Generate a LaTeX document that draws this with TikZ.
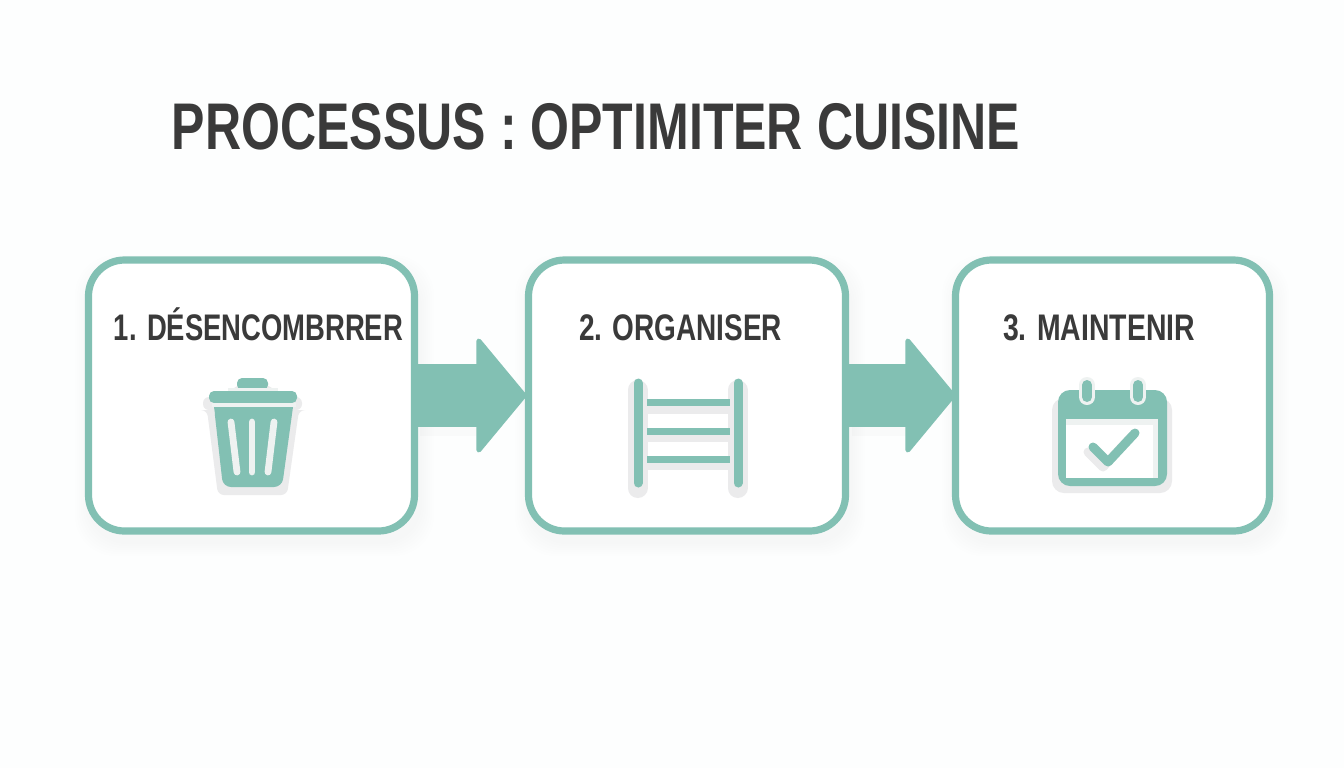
\documentclass[tikz,border=0pt]{standalone}
\usepackage{fontspec}
\usepackage{graphicx}
\setmainfont{Liberation Sans}
\usetikzlibrary{arrows.meta}
\definecolor{teal1}{HTML}{82C0B3}
\definecolor{ink}{HTML}{3A3A3A}
\definecolor{bgc}{HTML}{FDFEFE}
\definecolor{ghost}{HTML}{EBEBEC}
\definecolor{slot}{HTML}{EEF2F1}
\tikzset{
  stepbox/.style={draw=teal1,line width=3.6pt,fill=white,rounded corners=18pt,outer sep=0pt,inner sep=0pt,minimum height=135.5pt},
  flow/.style={draw=teal1,line width=31.5pt,-{Triangle[length=25.5pt,width=61pt,line width=2.5pt,round]}},
  steplabel/.style={text=ink,inner sep=0pt,anchor=base},
  ghostfill/.style={fill=ghost,draw=none},
  tealfill/.style={fill=teal1,draw=none},
}
\newcommand{\softshadow}[4]{%
  \foreach \g in {0,2,...,12}{%
    \fill[black,opacity=0.005,rounded corners=20pt]
      (#1-\g+2,#2-\g+10) rectangle (#3+\g+4,#4+\g+10);
  }}
\newcommand{\steptext}[2]{\resizebox{#1}{\height}{\fontsize{18.5}{20}\selectfont\bfseries #2}}
\begin{document}
\begin{tikzpicture}[x=0.5pt,y=-0.5pt]
\useasboundingbox (0,0) rectangle (1344,768);
\fill[bgc] (0,0) rectangle (1344,768);

\node[text=ink,inner sep=0pt,anchor=base] (title) at (596,149.5)
  {\resizebox{424pt}{\height}{\fontsize{33}{36}\selectfont\bfseries PROCESSUS : OPTIMITER CUISINE}};

\softshadow{85}{257}{418}{534}
\softshadow{525}{257}{849}{534}
\softshadow{952}{257}{1273}{534}
\fill[black,opacity=0.015] (420,372) rectangle (480,436);
\fill[black,opacity=0.015] (852,372) rectangle (910,436);

\node[stepbox,minimum width=163pt] (b1) at (251.5,395.5) {};
\node[stepbox,minimum width=158.5pt] (b2) at (687,395.5) {};
\node[stepbox,minimum width=157pt] (b3) at (1112.5,395.5) {};

\draw[flow,shorten >=1pt] (b1.east) -- (b2.west);
\draw[flow] (b2.east) -- (b3.west);

\node[steplabel] (t1) at (258.5,340.5) {\steptext{144.5pt}{1. DÉSENCOMBRRER}};
\node[steplabel] (t2) at (680.5,340.5) {\steptext{101.5pt}{2. ORGANISER}};
\node[steplabel] (t3) at (1099,340.5) {\steptext{96pt}{3. MAINTENIR}};

% trash can
\fill[ghostfill,rounded corners=3pt] (230,393) -- (236,385) -- (270,385) -- (276,393) -- cycle;
\fill[ghostfill,rounded corners=3pt] (203,397) -- (302,397) -- (302,410) -- (299,410) -- (287,495) -- (218,495) -- (207,410) -- (203,410) -- cycle;
\fill[tealfill,rounded corners=2.5pt] (237,390) -- (237,378) -- (268,378) -- (268,390) -- cycle;
\fill[slot] (228,388) rectangle (278,391);
\fill[tealfill,rounded corners=2.5pt] (209,403) -- (209,391) -- (297,391) -- (297,403) -- cycle;
\fill[slot] (212,403) rectangle (296,407);
\fill[tealfill,rounded corners=4pt] (214,407) -- (293,407) -- (282,487) -- (223,487) -- cycle;
\fill[tealfill] (214,407) -- (293,407) -- (292,414) -- (215,414) -- cycle;
\draw[slot,line width=3.4pt,line cap=round] (231,422) -- (237,472);
\draw[slot,line width=3.4pt,line cap=round] (252,422) -- (252,472);
\draw[slot,line width=3.4pt,line cap=round] (274,422) -- (268,472);

% ladder / shelf
\draw[ghost,line width=10pt,line cap=round] (637.5,390) -- (637.5,488);
\draw[ghost,line width=10pt,line cap=round] (737.5,390) -- (737.5,488);
\fill[ghostfill] (645,402) rectangle (732,414);
\fill[ghostfill] (645,431) rectangle (732,442);
\fill[ghostfill] (645,459) rectangle (732,470);
\fill[tealfill] (647,399) rectangle (730,406);
\fill[tealfill] (647,428) rectangle (730,435);
\fill[tealfill] (647,456) rectangle (730,463);
\draw[teal1,line width=4.5pt,line cap=round] (638,383) -- (638,483);
\draw[teal1,line width=4.5pt,line cap=round] (738,383) -- (738,483);

% calendar
\fill[ghostfill,rounded corners=6pt] (1052,398) rectangle (1172,493);
\fill[tealfill,rounded corners=6pt] (1058,390) rectangle (1167,486);
\fill[white] (1066,419) rectangle (1158,478);
\fill[slot] (1066,419) rectangle (1158,425);
\fill[slot] (1153,419) rectangle (1158,478);
\draw[slot,line width=8pt,line cap=round] (1087,385) -- (1087,397);
\draw[slot,line width=8pt,line cap=round] (1138,385) -- (1138,397);
\draw[teal1,line width=5pt,line cap=round] (1087,385) -- (1087,397);
\draw[teal1,line width=5pt,line cap=round] (1138,385) -- (1138,397);
\draw[ghost,line width=4.5pt,line cap=round,line join=round] (1088,452) -- (1103,467) -- (1130,438);
\draw[teal1,line width=4.5pt,line cap=round,line join=round] (1093,447) -- (1108,462) -- (1135,433);
\end{tikzpicture}
\end{document}
